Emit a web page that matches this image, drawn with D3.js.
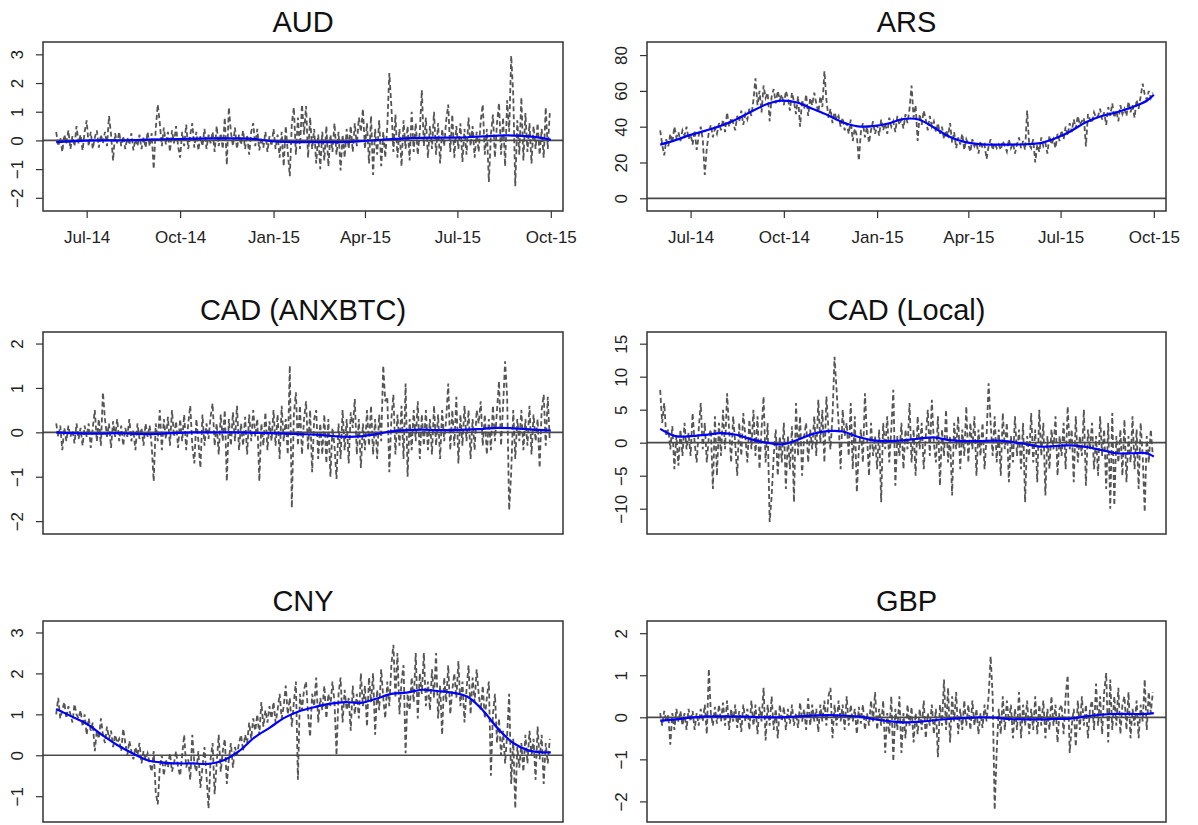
<!DOCTYPE html>
<html>
<head>
<meta charset="utf-8">
<script src="https://cdn.jsdelivr.net/npm/d3@7"></script>
<style>
  body { margin: 0; background: #fff; }
  svg text { font-family: "Liberation Sans", Arial, sans-serif; }
</style>
</head>
<body>
<svg id="chart" width="1198" height="825"></svg>
<script>
// ---- dates: one value every 2 days from 1 Jun 2014 ----
var START = Date.UTC(2014, 5, 1);
var DAY = 864e5;
var STEP_DAYS = 2;
var xDomain = [new Date(Date.UTC(2014, 4, 19)), new Date(Date.UTC(2015, 9, 13))];
var xTickDates = [Date.UTC(2014, 6, 1), Date.UTC(2014, 9, 1), Date.UTC(2015, 0, 1),
                  Date.UTC(2015, 3, 1), Date.UTC(2015, 6, 1), Date.UTC(2015, 9, 1)];
var xTickLabels = ["Jul-14", "Oct-14", "Jan-15", "Apr-15", "Jul-15", "Oct-15"];

// days (from 1 Jun 2014) of the smoothed-line readings
var smoothDays = [0,15,30,45,60,75,90,105,120,135,150,165,180,195,210,225,240,255,
                  270,285,300,315,330,345,360,375,390,405,420,435,450,465,480,487];

// ---- AUD ----
var audValues = [
  0.3,-0.2,0.1,-0.4,0.2,-0.1,0.35,-0.3,0.15,-0.2,0.5,-0.1,0.2,-0.35,0.3,
  0.7,-0.2,0.3,-0.3,0.1,0.35,-0.25,0.2,-0.1,0.3,-0.2,0.85,0.2,-0.7,0.25,-0.1,
  0.3,-0.2,0.15,-0.3,0.1,-0.15,0.25,-0.35,0.05,-0.2,0.2,-0.3,0.1,-0.25,0.3,
  -0.2,0.25,-1.0,0.4,1.25,0.6,-0.2,0.45,-0.15,0.3,-0.4,0.35,-0.1,0.5,-0.2,
  -0.6,0.3,-0.2,0.55,-0.3,0.2,0.6,-0.25,0.3,-0.35,0.15,-0.2,0.4,-0.3,0.2,-0.1,
  0.3,-0.4,0.5,-0.2,0.25,-0.3,0.8,-0.85,1.15,0.3,-0.2,0.45,-0.3,0.2,-0.15,
  0.35,-0.3,0.2,-0.5,0.3,0.6,-0.2,0.4,-0.35,0.1,-0.25,0.3,-0.4,0.15,-0.2,
  0.4,-0.3,0.2,-0.6,0.3,-0.9,0.5,-0.4,-1.25,0.6,1.15,-0.5,0.8,-0.3,1.25,0.2,
  1.2,-0.6,0.8,-0.3,0.4,-0.8,0.2,-1.0,0.3,-0.7,0.5,-0.9,0.2,-0.4,
  0.6,-0.5,0.3,-1.05,0.2,-0.6,0.4,-0.3,0.5,-0.4,0.6,-0.2,0.8,0.3,1.1,
  -0.3,0.6,-0.8,0.85,-1.2,0.4,-0.5,0.7,-0.9,0.3,-0.6,0.5,2.35,1.2,-0.4,
  0.9,-0.6,0.4,-0.9,0.7,-0.3,0.5,-0.7,1.0,-0.4,0.6,-0.5,0.3,1.75,-0.2,0.8,
  -0.6,0.5,-0.3,1.0,-0.5,0.6,-0.8,0.4,-0.2,0.7,1.25,-0.4,0.9,-0.6,0.5,
  -0.3,0.6,-0.75,0.4,-0.5,0.8,-0.2,0.5,-0.6,0.3,-0.4,0.7,1.25,-0.5,0.4,
  -1.45,0.2,0.9,-0.6,0.6,1.3,-0.5,0.8,-0.9,1.4,0.3,2.95,1.6,-1.6,0.7,-0.5,
  1.5,-0.7,0.95,-0.4,0.6,-0.8,0.5,-0.3,0.6,-0.5,0.4,-0.6,1.15,-0.3,0.95
];
var audSmooth = [-0.06,-0.03,-0.01,0.0,0.0,0.01,0.03,0.04,0.05,0.06,0.07,0.07,0.07,0.05,
  -0.02,-0.05,-0.06,-0.06,-0.06,-0.06,-0.03,0.01,0.05,0.07,0.09,0.1,0.1,0.11,0.14,0.17,
  0.17,0.14,0.07,0.02];
var audTicks = [-2, -1, 0, 1, 2, 3];

// ---- ARS ----
var arsValues = [
  38,30,24,33,29,36,31,40,34,37,32,38,35,40,33,
  36,30,38,27,35,40,33,13,28,37,41,34,39,36,42,38,
  44,37,48,40,45,42,38,46,43,49,41,47,44,50,46,
  55,67,52,60,48,63,56,59,43,57,61,53,60,55,58,
  52,60,56,49,59,54,47,57,40,55,50,58,46,56,52,59,
  53,48,57,51,71,55,45,50,42,48,44,46,40,45,38,
  42,36,44,32,39,35,21,37,42,34,40,31,38,43,36,
  41,35,44,38,42,36,45,40,43,37,46,41,44,39,47,42,
  50,63,45,52,32,47,41,49,44,38,46,40,43,37,
  42,36,40,33,38,35,42,31,37,28,34,30,36,27,33,
  30,26,33,29,31,25,32,28,30,22,29,33,27,31,28,
  30,27,32,29,26,33,28,31,25,30,34,28,32,27,49,30,
  28,33,20,30,26,34,29,31,25,35,30,33,28,36,32,
  38,33,40,35,42,37,44,39,46,41,43,45,29,47,44,
  42,48,45,46,50,44,48,41,51,46,53,45,49,43,52,47,
  50,46,54,48,52,45,55,50,57,64,58,55,60,56,59
];
var arsSmooth = [30,32.5,35.4,37.8,40.5,44,48.5,52.5,54.5,53.5,50,46.5,42.5,40.2,40.3,
  41.8,44.3,44,39.5,34.5,31.5,30.3,30,30,30.2,30.8,33.5,37.5,42.5,45.8,48,50.7,54.5,57.8];
var arsTicks = [0, 20, 40, 60, 80];

// ---- CAD (ANXBTC) ----
var cadAnxValues = [
  0.2,-0.1,0.15,-0.4,0.1,-0.2,0.15,-0.1,0.05,-0.25,0.2,-0.15,0.1,-0.3,0.15,
  -0.1,0.2,-0.35,0.1,0.5,-0.2,0.3,-0.3,0.9,0.3,-0.1,0.2,-0.35,0.25,-0.1,0.3,
  -0.2,0.15,-0.3,0.1,-0.1,0.3,-0.2,0.05,-0.4,0.2,-0.15,0.1,-0.3,0.2,-0.1,
  0.15,-0.3,-1.1,0.2,-0.2,0.5,-0.4,0.3,-0.15,0.35,-0.3,0.5,-0.1,0.25,-0.35,
  0.3,-0.2,0.4,-0.4,0.2,0.6,-0.3,-0.7,0.3,-0.2,-0.8,0.4,-0.3,0.2,-0.15,0.35,
  0.65,-0.3,0.2,-0.5,0.4,-0.2,0.5,-1.1,0.3,-0.3,0.45,-0.2,0.6,-0.4,0.2,
  -0.3,0.35,-0.5,0.4,-0.2,0.5,-0.1,0.3,-1.1,0.2,-0.3,0.45,-0.4,0.25,-0.2,
  0.5,-0.3,0.4,-0.6,0.6,-0.2,0.3,-0.5,1.5,-1.7,0.4,0.9,-0.3,0.6,-0.5,0.3,
  0.7,-0.4,0.5,-0.9,0.3,0.5,-0.6,0.2,-0.5,0.4,-0.7,0.3,-1.0,0.1,
  -0.3,-1.05,0.2,-0.6,0.5,-0.4,0.3,-0.7,0.45,0.1,0.75,-0.5,0.3,-0.8,0.2,
  -0.4,0.5,-0.3,0.6,-0.5,0.3,-0.6,0.4,-0.2,1.5,0.7,0.8,-0.9,0.3,0.85,
  -0.5,0.4,-0.3,0.6,-0.6,1.1,-1.0,0.3,-0.4,0.5,-0.2,0.7,-0.6,0.4,-0.3,0.5,
  -0.4,0.3,-0.5,0.6,-0.3,0.4,-0.6,0.5,-0.2,0.3,1.1,-0.4,0.5,-0.3,0.8,
  -0.7,0.4,-0.3,0.6,-0.2,0.5,-0.6,0.3,-0.4,0.5,0.2,0.7,-0.3,0.4,-0.5,
  0.3,-0.4,0.6,-0.2,0.5,1.15,-0.3,0.6,1.6,0.8,-1.75,-0.9,0.5,-0.6,0.3,-0.2,
  0.5,-0.4,0.3,-0.3,0.6,-0.5,0.4,-0.2,0.3,-0.8,0.5,0.85,-0.3,0.8,-0.2
];
var cadAnxSmooth = [0.0,-0.02,-0.03,-0.03,-0.02,-0.03,-0.04,-0.03,-0.01,0.0,0.0,0.0,0.0,
  -0.01,-0.02,-0.03,-0.04,-0.05,-0.08,-0.1,-0.09,-0.04,0.02,0.05,0.06,0.05,0.05,0.06,0.08,
  0.1,0.09,0.07,0.05,0.04];
var cadAnxTicks = [-2, -1, 0, 1, 2];

// ---- CAD (Local) ----
var cadLocalValues = [
  8,3,6,1,2,-1,2.5,-4,1,-3.5,2,-2,3,-1,1.5,
  -2,4.5,0,-3,2,6,-1,3,-3,1,2,-7,4,-5,3,-2,
  5,-1,7.5,2,-3,4,0,-5,3,-2,4.5,1,-3,3.5,-1,
  5,-2,4,-4,2,7,-3,3,-12,-8,-2,2,-5,1,-3,
  3,-7,1,-4,2.5,-9,6,-2,4,-5,1,3,-3,2,-1,4,
  -2,6.5,0,5,-3,7,2,-1,4,13,8,3,-4,5,1,
  3,-2,6,-4,4,-7.5,-1,2,-3,7.5,1,-5,3,-2,1,
  -4,2,-9,3,-1,4,-3,2,8,-6.5,1,-2,3,-4,2,-1,
  6,-3,2,-5,4,-1,3,-4,1,5,-2,6.5,0,-3,
  4,-6.5,2,-2,5,-3,1,-8,3,-1,4,-4,2,-2,5.5,
  -3,3,-1,4,-5,2,-2,3,-4,1,9,3,-2,4,-3,
  2,-5,4.5,-1,3,-6,1,-3,4,-2,2,-4,3,-9,1,-2,
  4.5,-3,2,-6,5,-2,3,-8,1,-4,2,-1,4,-5,1,
  -2,3,-4,5.5,-1,2,-6,4,-3,1,-2,5,-6.5,2,-1,
  3,-4,1,-5,4,-2,2,-7,3,-10,4.5,-9.5,1,-3,2,-5,
  3.5,-6,1,-3,4,-4,2,-7,3,-2,-10.5,1,-3,2,-2
];
var cadLocalSmooth = [2.1,1.0,1.0,1.2,1.45,1.2,0.5,0.0,-0.25,0.4,1.3,1.75,1.7,0.9,0.35,
  0.25,0.35,0.6,0.8,0.4,0.25,0.25,0.3,0.15,-0.2,-0.6,-0.5,-0.4,-0.65,-1.1,-1.6,-1.6,
  -1.6,-2.1];
var cadLocalTicks = [-10, -5, 0, 5, 10, 15];

// ---- CNY ----
var cnyValues = [
  1.0,1.4,0.9,1.1,1.3,0.9,1.2,1.0,0.8,1.25,1.0,0.9,1.1,0.7,1.0,
  0.5,0.9,0.6,0.8,0.1,0.6,0.4,0.9,0.5,0.3,0.7,0.4,0.6,0.2,0.5,0.3,
  0.4,0.1,0.65,0.3,0.0,0.35,0.1,-0.1,0.2,0.0,0.3,-0.2,0.1,-0.1,0.05,
  -0.2,-0.4,0.1,-0.9,-1.2,-0.3,0.0,-0.5,-0.1,-0.3,0.05,-0.4,-0.2,0.1,-0.3,
  -0.5,0.0,0.5,-0.3,-0.1,-0.6,0.5,-0.2,-0.4,0.1,-0.8,-0.3,0.2,-0.5,-1.3,-0.1,
  0.3,-0.95,-0.2,0.5,-0.4,0.1,0.4,-0.7,-0.1,0.3,-0.3,0.2,0.0,0.3,0.5,
  0.1,0.5,0.3,0.8,0.4,0.9,0.6,1.0,0.5,1.3,0.7,1.1,0.8,1.2,0.9,
  1.3,0.8,1.1,1.5,0.9,1.2,1.7,1.0,1.4,0.7,1.3,1.8,-0.6,1.5,1.1,1.6,
  1.8,1.0,0.45,1.5,1.2,1.9,0.8,1.4,1.1,1.7,0.9,1.5,1.2,1.8,
  1.3,0.0,1.5,1.9,0.8,1.6,1.1,1.4,0.6,1.7,1.0,1.5,0.9,2.0,1.2,
  1.7,0.7,1.9,1.3,2.0,0.5,1.6,1.1,2.1,1.4,0.9,1.8,1.2,2.2,2.7,
  1.4,2.5,1.0,1.8,2.2,0.05,1.5,1.1,1.9,1.3,2.5,0.9,2.0,1.5,2.5,1.2,
  1.8,1.1,2.1,1.4,2.5,0.9,1.7,0.5,1.9,1.3,2.2,1.0,1.6,2.0,1.4,
  2.3,1.2,1.8,0.8,1.6,2.2,1.0,1.9,1.3,2.1,1.5,1.1,1.7,0.9,1.4,
  1.8,-0.5,1.0,1.5,0.3,0.9,0.0,0.6,-0.2,0.5,1.5,-0.7,0.4,-1.3,0.2,-0.3,
  0.3,-0.4,0.5,-0.2,0.6,0.0,0.4,-0.6,0.7,-0.1,0.5,-0.7,0.3,-0.2,0.4
];
var cnySmooth = [1.13,0.95,0.77,0.5,0.25,0.05,-0.12,-0.18,-0.2,-0.2,-0.21,-0.12,0.1,0.43,
  0.67,0.92,1.08,1.18,1.26,1.3,1.28,1.38,1.5,1.53,1.6,1.57,1.53,1.43,1.1,0.65,0.3,0.12,
  0.07,0.07];
var cnyTicks = [-1, 0, 1, 2, 3];

// ---- GBP ----
var gbpValues = [
  0.1,-0.2,0.15,-0.1,0.05,-0.65,0.1,-0.3,0.2,-0.1,0.15,-0.2,0.1,-0.3,0.2,
  -0.1,0.15,-0.3,0.1,-0.2,0.2,-0.1,0.3,-0.4,1.15,0.1,-0.2,0.25,-0.15,0.3,-0.1,
  0.35,-0.2,0.4,-0.3,0.2,-0.1,0.3,-0.25,0.15,-0.35,0.3,-0.1,0.2,-0.3,0.4,
  -0.2,0.3,-0.4,0.25,-0.1,0.7,-0.55,0.3,-0.2,0.5,-0.3,0.2,-0.5,0.3,-0.1,
  0.25,-0.3,0.2,-0.15,0.3,-0.2,0.1,-0.25,0.35,-0.1,0.2,-0.3,0.45,-0.2,0.3,-0.1,
  0.2,-0.35,0.3,-0.1,0.4,-0.2,0.5,0.7,-0.5,0.3,-0.2,0.4,-0.1,0.3,-0.3,
  0.5,-0.2,0.3,-0.1,0.2,-0.4,0.25,-0.15,0.3,-0.3,0.1,-0.2,0.4,-0.1,0.6,
  -0.3,0.2,-0.2,0.4,-0.85,0.1,-0.4,0.5,-1.05,0.2,-0.3,0.5,-0.85,0.1,-0.5,0.3,
  -0.2,0.25,-0.6,0.1,-0.4,0.2,-0.3,0.4,-0.5,0.1,-0.2,0.3,-0.4,0.2,
  -0.95,0.3,-0.2,0.9,-0.3,0.7,-0.6,0.5,-0.1,0.6,-0.4,0.2,-0.3,0.4,-0.2,
  0.3,-0.3,0.4,-0.2,0.2,-0.4,0.1,-0.25,0.3,-0.1,0.5,1.45,0.5,-2.2,-0.8,
  0.2,-0.4,0.5,-0.3,0.4,-0.1,0.3,-0.5,0.2,-0.3,0.6,-0.5,0.3,-0.2,0.4,-0.4,
  0.2,-0.3,0.5,-0.4,0.3,-0.2,0.4,-0.5,0.2,-0.3,0.5,-0.2,0.3,-0.6,0.2,
  0.3,-0.4,0.5,1.0,-0.85,-0.2,0.2,-0.7,0.4,-0.3,0.5,-0.2,0.3,-0.5,0.2,
  0.4,-0.3,0.8,-0.2,0.5,-0.4,0.6,1.05,-0.6,0.9,-0.3,0.5,-0.2,0.7,-0.4,0.3,
  0.5,-0.3,0.6,-0.5,0.2,-0.2,0.4,-0.5,0.3,-0.1,0.9,-0.3,0.6,0.1,0.6
];
var gbpSmooth = [-0.08,-0.05,-0.01,0.02,0.02,0.02,0.01,0.0,0.0,0.02,0.04,0.05,0.04,0.02,
  -0.04,-0.09,-0.12,-0.11,-0.07,-0.04,-0.02,0.0,-0.01,-0.04,-0.05,-0.05,-0.04,-0.03,0.02,
  0.06,0.08,0.08,0.08,0.1];
var gbpTicks = [-2, -1, 0, 1, 2];

// ---- layout ----
var panels = [
  { title: "AUD",          values: audValues,      smooth: audSmooth,      ticks: audTicks,      yDomain: [-2.46, 3.43],  box: [43, 42, 563, 211],   titleY: 32,  xAxis: true },
  { title: "ARS",          values: arsValues,      smooth: arsSmooth,      ticks: arsTicks,      yDomain: [-7.1, 87.3],   box: [647, 42, 1166, 211], titleY: 32,  xAxis: true },
  { title: "CAD (ANXBTC)", values: cadAnxValues,   smooth: cadAnxSmooth,   ticks: cadAnxTicks,   yDomain: [-2.29, 2.26],  box: [43, 332, 563, 534],  titleY: 320, xAxis: false },
  { title: "CAD (Local)",  values: cadLocalValues, smooth: cadLocalSmooth, ticks: cadLocalTicks, yDomain: [-13.83, 16.77], box: [647, 332, 1166, 534], titleY: 320, xAxis: false },
  { title: "CNY",          values: cnyValues,      smooth: cnySmooth,      ticks: cnyTicks,      yDomain: [-1.63, 3.28],  box: [43, 621, 563, 822],  titleY: 611, xAxis: false },
  { title: "GBP",          values: gbpValues,      smooth: gbpSmooth,      ticks: gbpTicks,      yDomain: [-2.49, 2.29],  box: [647, 621, 1166, 822], titleY: 611, xAxis: false }
];

var svg = d3.select("#chart");
var defs = svg.append("defs");

panels.forEach(function (p, k) {
  var x0 = p.box[0], y0 = p.box[1], x1 = p.box[2], y1 = p.box[3];

  var x = d3.scaleUtc().domain(xDomain).range([x0, x1]);
  var y = d3.scaleLinear().domain(p.yDomain).range([y1, y0]);

  var g = svg.append("g").attr("class", "panel");

  defs.append("clipPath").attr("id", "clip" + k)
    .append("rect")
    .attr("x", x0).attr("y", y0)
    .attr("width", x1 - x0).attr("height", y1 - y0);

  var plot = g.append("g").attr("clip-path", "url(#clip" + k + ")");

  // raw series, dashed grey
  var line = d3.line()
    .x(function (d, i) { return x(new Date(START + i * STEP_DAYS * DAY)); })
    .y(function (d) { return y(d); });

  plot.append("path")
    .datum(p.values)
    .attr("d", line)
    .attr("fill", "none")
    .attr("stroke", "#555")
    .attr("stroke-width", 1.8)
    .attr("stroke-dasharray", "5,3");

  // zero line
  plot.append("line")
    .attr("x1", x0).attr("x2", x1)
    .attr("y1", y(0)).attr("y2", y(0))
    .attr("stroke", "#4a4a4a")
    .attr("stroke-width", 1.7);

  // smoothed trend, blue
  var smoothLine = d3.line()
    .curve(d3.curveCatmullRom.alpha(0.5))
    .x(function (d, i) { return x(new Date(START + smoothDays[i] * DAY)); })
    .y(function (d) { return y(d); });

  plot.append("path")
    .datum(p.smooth)
    .attr("d", smoothLine)
    .attr("fill", "none")
    .attr("stroke", "#0000ff")
    .attr("stroke-width", 2.2);

  // frame
  g.append("rect")
    .attr("x", x0).attr("y", y0)
    .attr("width", x1 - x0).attr("height", y1 - y0)
    .attr("fill", "none")
    .attr("stroke", "#333")
    .attr("stroke-width", 1.5);

  // y axis, labels rotated like base R
  var yAxis = g.append("g")
    .attr("transform", "translate(" + x0 + ",0)")
    .call(d3.axisLeft(y).tickValues(p.ticks).tickSize(7).tickFormat(d3.format("d")));
  yAxis.select(".domain").remove();
  yAxis.attr("font-family", null).attr("font-size", null);
  yAxis.selectAll("line").attr("stroke", "#333").attr("stroke-width", 1.2);
  yAxis.selectAll("text")
    .attr("x", null).attr("dy", null)
    .attr("text-anchor", "middle")
    .attr("transform", "translate(-20,0) rotate(-90)")
    .style("font-size", "17px")
    .attr("fill", "#222");

  if (p.xAxis) {
    var xAxis = g.append("g")
      .attr("transform", "translate(0," + y1 + ")")
      .call(d3.axisBottom(x)
        .tickValues(xTickDates.map(function (t) { return new Date(t); }))
        .tickSize(7)
        .tickPadding(13)
        .tickFormat(function (d, i) { return xTickLabels[i]; }));
    xAxis.select(".domain").remove();
    xAxis.attr("font-family", null).attr("font-size", null);
    xAxis.selectAll("line").attr("stroke", "#333").attr("stroke-width", 1.2);
    xAxis.selectAll("text").style("font-size", "17px").attr("fill", "#222");
  }

  // title
  g.append("text")
    .attr("x", (x0 + x1) / 2)
    .attr("y", p.titleY)
    .attr("text-anchor", "middle")
    .style("font-size", "29px")
    .attr("fill", "#111")
    .text(p.title);
});
</script>
</body>
</html>
